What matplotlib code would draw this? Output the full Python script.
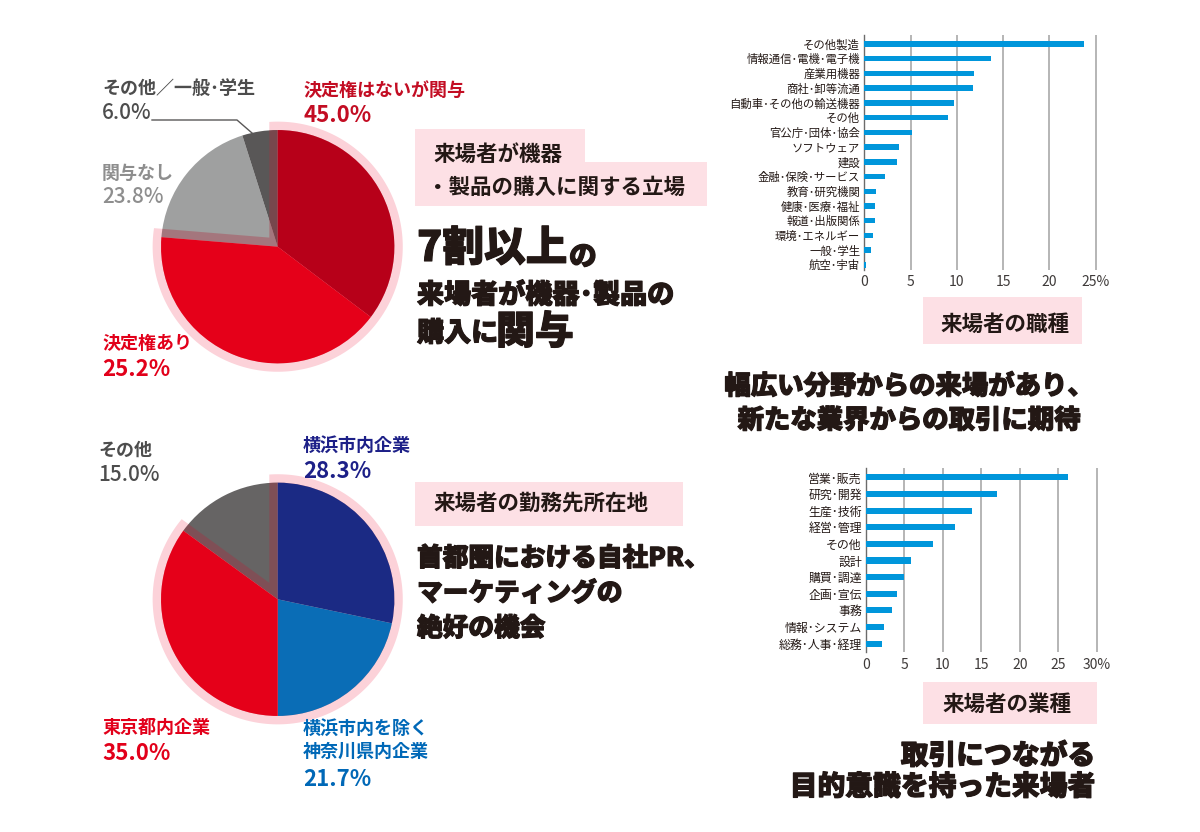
import numpy as np
import matplotlib
matplotlib.use('Agg')
import matplotlib.pyplot as plt
import matplotlib.patheffects as pe
from matplotlib.patches import Rectangle, Polygon, Circle
from matplotlib.lines import Line2D

plt.rcParams['font.family'] = ['Noto Sans CJK JP', 'DejaVu Sans']

# ---- data ----
# purchase role pie (slice sizes as drawn, label text as printed)
role_labels = ['決定権はないが関与', '決定権あり', '関与なし', 'その他／一般･学生']
role_pct_text = ['45.0%', '25.2%', '23.8%', '6.0%']
role_share = [35.3, 41.0, 18.8, 4.9]
role_colors = ['#b70019', '#e50019', '#9fa0a0', '#595757']

# workplace location pie
loc_labels = ['横浜市内企業', '横浜市内を除く\n神奈川県内企業', '東京都内企業', 'その他']
loc_pct = [28.3, 21.7, 35.0, 15.0]
loc_colors = ['#1b2a84', '#0a6db6', '#e50019', '#666464']

# occupation (業種) bars, %
job_labels = ['その他製造', '情報通信･電機･電子機', '産業用機器', '商社･卸等流通',
              '自動車･その他の輸送機器', 'その他', '官公庁･団体･協会', 'ソフトウェア',
              '建設', '金融･保険･サービス', '教育･研究機関', '健康･医療･福祉',
              '報道･出版関係', '環境･エネルギー', '一般･学生', '航空･宇宙']
job_vals = [23.7, 13.7, 11.9, 11.8, 9.7, 9.0, 5.2, 3.7, 3.5, 2.2, 1.3, 1.2, 1.2, 0.9, 0.7, 0.15]
job_ticks = [0, 5, 10, 15, 20, 25]

# function (職種) bars, %
func_labels = ['営業･販売', '研究･開発', '生産･技術', '経営･管理', 'その他', '設計',
               '購買･調達', '企画･宣伝', '事務', '情報･システム', '総務･人事･経理']
func_vals = [26.3, 17.0, 13.8, 11.6, 8.7, 5.8, 4.9, 4.0, 3.4, 2.4, 2.1]
func_ticks = [0, 5, 10, 15, 20, 25, 30]

W, H = 1200, 832
fig = plt.figure(figsize=(12, 8.32), dpi=100)
DARK = '#231815'
PINK_BOX = '#fde0e5'
PINK_RING = '#fcd2d9'
HEAVY = [pe.withStroke(linewidth=0.8, foreground=DARK)]


def fx(x):
    return x / W


def fy(y):
    return 1 - y / H


def put(x, y, s, size, color=DARK, weight='bold', ha='left', va='center', fx_=None):
    t = fig.text(fx(x), fy(y), s, fontsize=size, color=color, fontweight=weight,
                 ha=ha, va=va, linespacing=1.25)
    if fx_:
        t.set_path_effects(fx_)
    return t


def headline(x, y, s, size, ha='left'):
    return put(x, y, s, size, weight='black', ha=ha, fx_=HEAVY)


def box(x0, y0, x1, y1):
    fig.add_artist(Rectangle((fx(x0), fy(y1)), (x1 - x0) / W, (y1 - y0) / H,
                             transform=fig.transFigure, facecolor=PINK_BOX,
                             edgecolor='none', zorder=0))


def band_verts(th1, th2, r, d):
    # wedge th1..th2 (ccw, degrees) grown outward by d
    t1, t2 = np.radians(th1), np.radians(th2)
    u1 = np.array([np.cos(t1), np.sin(t1)])
    n1 = np.array([np.sin(t1), -np.cos(t1)])
    u2 = np.array([np.cos(t2), np.sin(t2)])
    n2 = np.array([-np.sin(t2), np.cos(t2)])
    a, b = np.linalg.solve(np.array([[u1[0], -u2[0]], [u1[1], -u2[1]]]), d * (n2 - n1))
    apex = d * n1 + a * u1
    R = r + d
    s = np.sqrt(R ** 2 - d ** 2)
    p1 = d * n1 + s * u1
    p2 = d * n2 + s * u2
    a0 = np.arctan2(p1[1], p1[0])
    a1 = np.arctan2(p2[1], p2[0])
    while a1 < a0:
        a1 += 2 * np.pi
    ang = np.linspace(a0, a1, 200)
    arc = np.column_stack([R * np.cos(ang), R * np.sin(ang)])
    return np.vstack([apex, p1, arc, p2, apex])


def draw_pie(cx, cy, shares, colors, n_hi):
    half = 140
    ax = fig.add_axes([fx(cx - half), fy(cy + half), 2 * half / W, 2 * half / H])
    wedges, _ = ax.pie(shares, colors=colors, startangle=90, counterclock=False,
                       radius=1.0, wedgeprops=dict(linewidth=0))
    ax.set_xlim(-1.2, 1.2)
    ax.set_ylim(-1.2, 1.2)
    ax.set_aspect('equal')
    ax.axis('off')
    frac = sum(shares[:n_hi]) / sum(shares)
    verts = band_verts(90 - 360 * frac, 90, 1.0, 0.072)
    ax.add_patch(Polygon(verts, closed=True, facecolor=PINK_RING, edgecolor='none', zorder=1))
    ov = Polygon(verts, closed=True, facecolor='#b02a3c', alpha=0.35, edgecolor='none', zorder=3)
    ax.add_patch(ov)
    ov.set_clip_path(Circle((0, 0), 1.0, transform=ax.transData))
    for i, w in enumerate(wedges):
        w.set_zorder(4 if i < n_hi else 2)


def draw_bars(x0, ppu, xmax, ytop, ybot, first, step, labels, vals, ticks, lsize, tpad):
    n = len(vals)
    ax = fig.add_axes([fx(x0), fy(ybot), xmax * ppu / W, (ybot - ytop) / H])
    ax.barh(np.arange(n), vals, height=0.37, color='#0096db', zorder=3)
    ax.set_xlim(0, xmax)
    lo = -(first - ytop) / step
    hi = (n - 1) + (ybot - (first + step * (n - 1))) / step
    ax.set_ylim(hi, lo)
    ax.set_yticks(np.arange(n))
    ax.set_yticklabels(labels)
    ax.set_xticks(ticks)
    ax.set_xticklabels([str(t) for t in ticks[:-1]] + ['%d%%' % ticks[-1]])
    ax.tick_params(axis='y', length=0, labelsize=lsize, colors=DARK, pad=3)
    ax.tick_params(axis='x', length=0, labelsize=10, colors='#3e3a39', pad=tpad)
    ax.grid(axis='x', color='#b5b5b5', linewidth=1.4, zorder=0)
    ax.set_axisbelow(True)
    for sp in ['top', 'right', 'bottom']:
        ax.spines[sp].set_visible(False)
    ax.spines['left'].set_color('#6b6b6b')
    ax.spines['left'].set_linewidth(1.0)
    ax.patch.set_alpha(0)


# ---- pies ----
draw_pie(277.7, 246.7, role_share, role_colors, 2)
draw_pie(277.7, 599.3, loc_pct, loc_colors, 3)

# role pie labels
put(303, 90, role_labels[0], 13, '#c30d23')
put(303, 116, role_pct_text[0], 16, '#c30d23')
put(102, 343, role_labels[1], 13, '#e2001a')
put(102, 370, role_pct_text[1], 16, '#e2001a')
put(102, 173, role_labels[2], 13, '#8e8e8e')
put(102, 197, role_pct_text[2], 15, '#8e8e8e', weight='medium')
put(102, 88, role_labels[3], 13, '#4d4d4d')
put(102, 113, role_pct_text[3], 15, '#4d4d4d', weight='medium')
fig.add_artist(Line2D([fx(152), fx(237), fx(252)], [fy(120), fy(120), fy(133)],
                      transform=fig.transFigure, color='#595757', lw=1.0))

# location pie labels
put(303, 445, loc_labels[0], 13, '#1d2088')
put(303, 472, '%.1f%%' % loc_pct[0], 16, '#1d2088')
put(303, 740, loc_labels[1], 13, '#0068b7')
put(303, 780, '%.1f%%' % loc_pct[1], 16, '#0068b7')
put(102, 727, loc_labels[2], 13, '#e2001a')
put(102, 753, '%.1f%%' % loc_pct[2], 16, '#e2001a')
put(98, 450, loc_labels[3], 13, '#4d4d4d')
put(98, 475, '%.1f%%' % loc_pct[3], 15, '#4d4d4d', weight='medium')

# ---- middle column text ----
box(415, 129, 585, 163)
box(415, 162, 707, 206)
put(433, 154, '来場者が機器', 15.5)
put(427, 187, '・製品の購入に関する立場', 15.5)
headline(417, 249, '7割以上', 30)
headline(569, 257, 'の', 20)
headline(417, 295, '来場者が機器･製品の', 19.5)
headline(417, 333, '購入に', 19.5)
headline(496, 332, '関与', 28)

box(415, 482, 683, 526)
put(433, 504, '来場者の勤務先所在地', 15.5)
headline(417, 558, '首都圏における自社PR、', 18.5)
headline(417, 593, 'マーケティングの', 18.5)
headline(417, 628, '絶好の機会', 18.5)

# ---- bars ----
draw_bars(864.3, 9.254, 25.4, 35, 270, 44, 14.73, job_labels, job_vals, job_ticks, 8.2, 3.5)
draw_bars(866, 7.69, 30.4, 468, 651.7, 477.3, 16.64, func_labels, func_vals, func_ticks, 8.6, 4.5)

box(923, 297, 1082, 344)
put(1005, 324, '来場者の職種', 15.5, ha='center')
headline(909, 386, '幅広い分野からの来場があり、', 19, ha='center')
headline(909, 420, '新たな業界からの取引に期待', 19, ha='center')

box(923, 682, 1097, 724)
put(1007, 704, '来場者の業種', 15.5, ha='center')
headline(1095, 756, '取引につながる', 20, ha='right')
headline(1095, 787, '目的意識を持った来場者', 20, ha='right')

fig.savefig('out.png', dpi=100, facecolor='white')
